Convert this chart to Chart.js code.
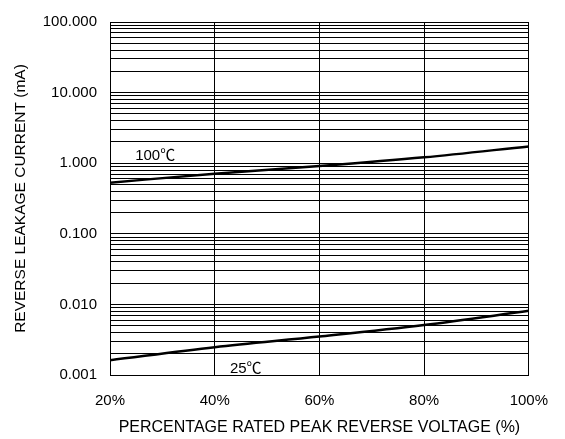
<!DOCTYPE html>
<html>
<head>
<meta charset="utf-8">
<script src="https://cdn.jsdelivr.net/npm/chart.js@4/dist/chart.umd.min.js"></script>
<style>
  html, body { margin: 0; padding: 0; background: #fff; }
  #wrap { width: 565px; height: 439px; }
</style>
</head>
<body>
<div id="wrap"><canvas id="leakChart" width="565" height="439"></canvas></div>
<script>
// values
const voltagePct = [20, 40, 60, 80, 100];
const current100C = [0.53, 0.71, 0.91, 1.21, 1.73];
const current25C = [0.00162, 0.00248, 0.0035, 0.0051, 0.0081];
const xTicks = [20, 40, 60, 80, 100];
const yDecades = [0.001, 0.01, 0.1, 1, 10, 100];
const curveLabels = [
  { text: "100\u2103", x: 24.8, y: 1.29 },
  { text: "25\u2103", x: 42.9, y: 0.00121 },
];

const font = "'Liberation Sans', Arial, sans-serif";

const textLabels = {
  id: "textLabels",
  afterDatasetsDraw(chart) {
    const { ctx, scales } = chart;
    ctx.save();
    ctx.fillStyle = "#000";
    ctx.font = "15px " + font + ", 'Noto Sans CJK SC'";
    ctx.textAlign = "left";
    ctx.textBaseline = "middle";
    curveLabels.forEach((l) => {
      ctx.fillText(l.text, scales.x.getPixelForValue(l.x), scales.y.getPixelForValue(l.y));
    });
    ctx.restore();
  },
};

const line = (data) => ({
  data: voltagePct.map((v, i) => ({ x: v, y: data[i] })),
  borderColor: "#000",
  borderWidth: 2.5,
  pointRadius: 0,
  cubicInterpolationMode: "monotone",
  fill: false,
});

new Chart(document.getElementById("leakChart"), {
  type: "line",
  data: { datasets: [line(current100C), line(current25C)] },
  options: {
    responsive: false,
    animation: false,
    layout: { padding: { left: 0, right: 36, top: 17, bottom: 0 } },
    plugins: { legend: { display: false }, tooltip: { enabled: false } },
    scales: {
      x: {
        type: "linear",
        min: 20,
        max: 100,
        afterBuildTicks: (s) => { s.ticks = xTicks.map((v) => ({ value: v })); },
        afterFit: (s) => { s.height = 64; },
        grid: { color: "#000", lineWidth: 1, drawTicks: false },
        border: { color: "#000", width: 1 },
        ticks: {
          padding: 17,
          color: "#000",
          font: { family: font, size: 15 },
          callback: (v) => v + "%",
        },
        title: {
          display: true,
          text: "PERCENTAGE RATED PEAK REVERSE VOLTAGE (%)",
          color: "#000",
          font: { family: font, size: 16 },
          padding: { top: 2, bottom: 2 },
        },
      },
      y: {
        type: "logarithmic",
        min: 0.001,
        max: 100,
        afterBuildTicks: (s) => {
          const t = [];
          yDecades.forEach((d, i) => {
            if (i === yDecades.length - 1) { t.push({ value: d, major: true }); return; }
            for (let k = 1; k <= 9; k++) t.push({ value: d * k, major: k === 1 });
          });
          s.ticks = t;
        },
        afterFit: (s) => { s.width = 110; },
        grid: { color: "#000", lineWidth: 1, drawTicks: false },
        border: { color: "#000", width: 1 },
        ticks: {
          padding: 13,
          color: "#000",
          autoSkip: false,
          font: { family: font, size: 15 },
          callback: (v) => (yDecades.includes(+v) ? Number(v).toFixed(3) : ""),
        },
        title: {
          display: true,
          text: "REVERSE LEAKAGE CURRENT (mA)",
          color: "#000",
          font: { family: font, size: 15.5 },
          padding: { top: 11, bottom: 11 },
        },
      },
    },
  },
  plugins: [textLabels],
});
</script>
</body>
</html>
